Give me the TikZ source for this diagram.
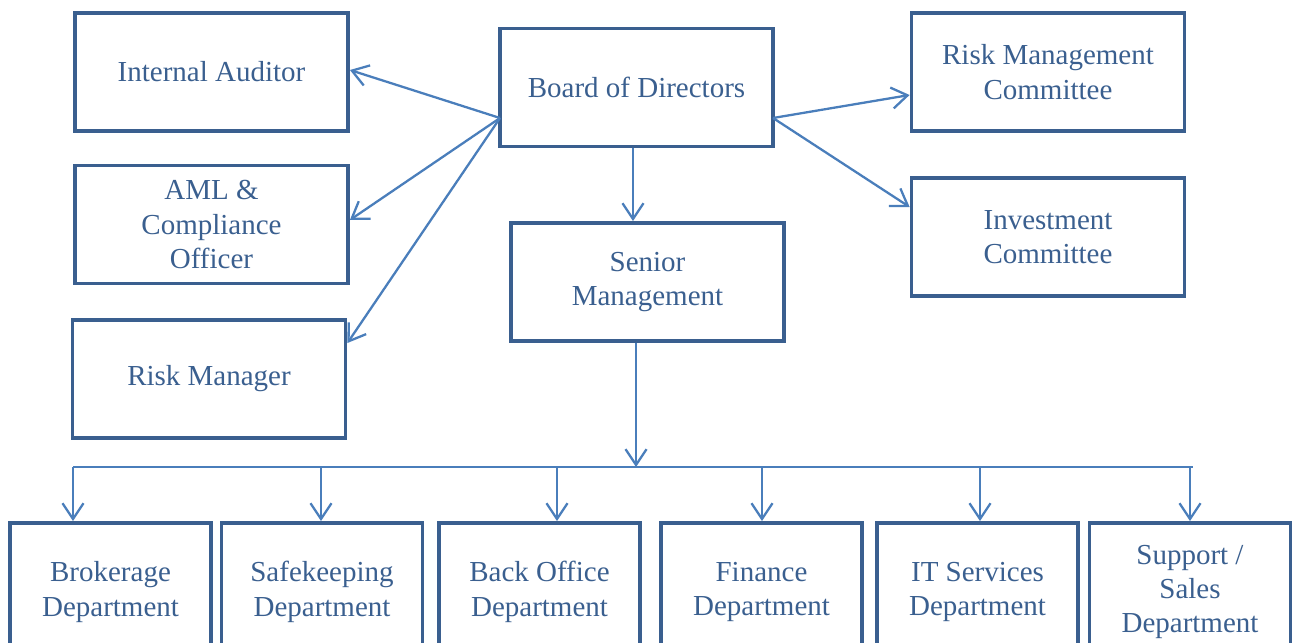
\documentclass[tikz,border=0pt]{standalone}
\usepackage{fontspec}
\setmainfont{Liberation Serif}
\usepackage{xcolor}
\usetikzlibrary{arrows.meta}

\definecolor{boxblue}{RGB}{58,95,143}
\definecolor{lineblue}{RGB}{74,126,187}

\tikzset{
    orgbox/.style={draw=boxblue,line width=2.2pt,text=boxblue,align=center,
        inner sep=0pt,minimum width=5.46cm,minimum height=2.36cm,
        font=\fontsize{16.5}{19.5}\selectfont},
    deptbox/.style={orgbox,minimum width=4.02cm,minimum height=2.6cm},
    link/.style={draw=lineblue,line width=1.3pt,-{Straight Barb[length=9pt,width=12pt]}}
}

\begin{document}
\begin{tikzpicture}[x=0.02cm,y=-0.02cm]
    \useasboundingbox (0,0) rectangle (1293,642);

    % Top level
    \node[orgbox] (board) at (636.5,87.5) {Board of Directors};
    \node[orgbox] (senior) at (647.5,282) {Senior\\Management};

    % Left side
    \node[orgbox] (audit) at (211.5,72) {Internal Auditor};
    \node[orgbox] (aml) at (211.5,224.5) {AML \&\\Compliance\\Officer};
    \node[orgbox] (riskmgr) at (209,379) {Risk Manager};

    % Right side
    \node[orgbox] (riskcom) at (1048,72) {Risk Management\\Committee};
    \node[orgbox] (invcom) at (1048,237) {Investment\\Committee};

    % Board arrows
    \coordinate (bl) at (500,118);
    \coordinate (br) at (773,118);
    \draw[link] (bl) -- (audit.east |- 0,70);
    \draw[link] (bl) -- (aml.east |- 0,220);
    \draw[link] (bl) -- (riskmgr.east |- 0,343);
    \draw[link] (br) -- (riskcom.west |- 0,95);
    \draw[link] (br) -- (invcom.west |- 0,207);
    \draw[link] (633,0 |- board.south) -- (633,0 |- senior.north);

    % Departments
    \coordinate (busL) at (73,467);
    \coordinate (busR) at (1193,467);
    \draw[draw=lineblue,line width=1.3pt] (busL) -- (busR);
    \draw[link] (636,0 |- senior.south) -- (636,0 |- busL);

    \foreach \cx/\dx/\n/\t in {110.5/73/brok/{Brokerage\\Department},
                              322/321/safe/{Safekeeping\\Department},
                              539.5/557/back/{Back Office\\Department},
                              761.5/762/fin/{Finance\\Department},
                              977.5/980/it/{IT Services\\Department},
                              1190/1190/sales/{Support /\\Sales\\Department}} {
        \node[deptbox,minimum height=2.76cm] (\n) at (\cx,592) {\t};
        \draw[link] (\dx,0 |- busL) -- (\dx,0 |- \n.north);
    }

\end{tikzpicture}
\end{document}
